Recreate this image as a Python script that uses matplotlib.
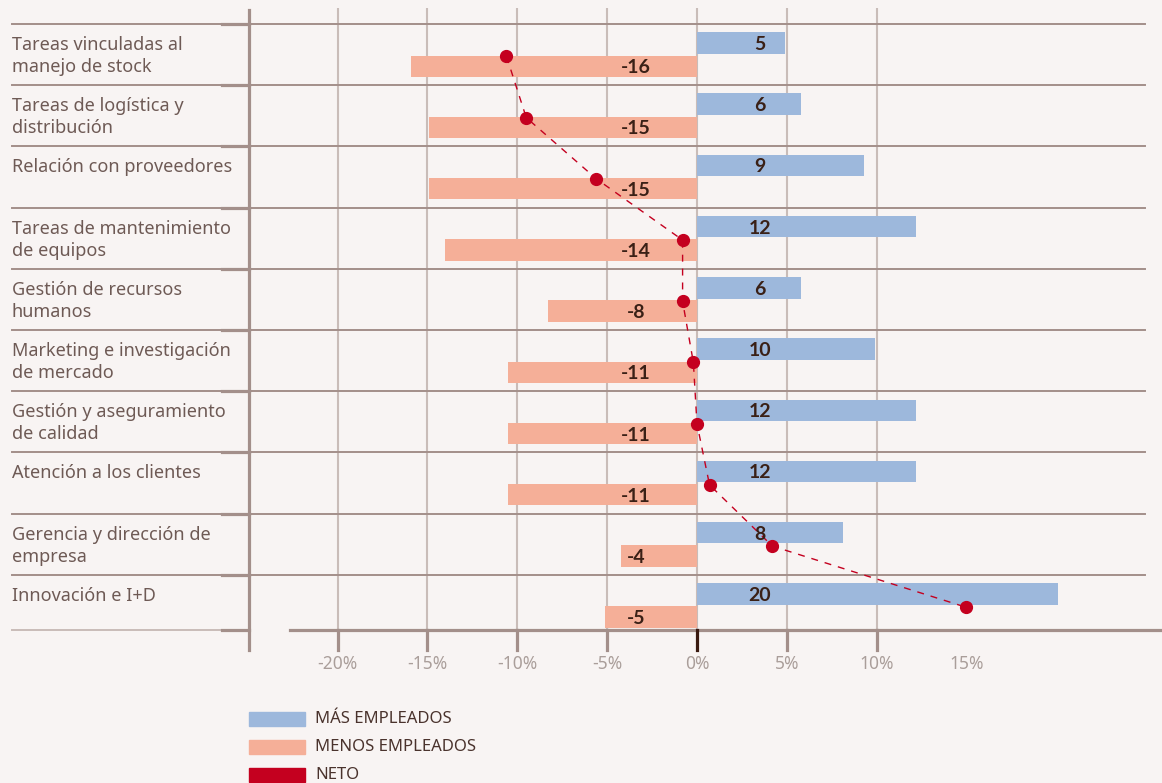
import matplotlib.pyplot as plt
from matplotlib.patches import Rectangle

# data
categorias = [
    'Tareas vinculadas al\nmanejo de stock',
    'Tareas de logística y\ndistribución',
    'Relación con proveedores',
    'Tareas de mantenimiento\nde equipos',
    'Gestión de recursos\nhumanos',
    'Marketing e investigación\nde mercado',
    'Gestión y aseguramiento\nde calidad',
    'Atención a los clientes',
    'Gerencia y dirección de\nempresa',
    'Innovación e I+D',
]
mas_empleados = [4.9, 5.8, 9.3, 12.2, 5.8, 9.9, 12.2, 12.2, 8.1, 20.1]
menos_empleados = [-15.9, -14.9, -14.9, -14.0, -8.3, -10.5, -10.5, -10.5, -4.2, -5.1]
mas_etiquetas = ['5', '6', '9', '12', '6', '10', '12', '12', '8', '20']
menos_etiquetas = ['-16', '-15', '-15', '-14', '-8', '-11', '-11', '-11', '-4', '-5']
neto = [-10.6, -9.5, -5.6, -0.8, -0.8, -0.2, 0.0, 0.7, 4.2, 15.0]
x_ticks = [-20, -15, -10, -5, 0, 5, 10, 15]
x_grid = [-20, -15, -10, -5, 0, 5, 10]

# colors
bg = '#f8f4f3'
azul = '#9db8dc'
salmon = '#f5af98'
rojo = '#c4001f'
linea = '#a38f8a'
grid_v = '#c9bcb8'
texto_cat = '#6e5a55'
texto_val = '#3a2016'
texto_tick = '#aa9e9a'

plt.rcParams['font.family'] = ['Noto Sans', 'DejaVu Sans']

W, H = 1162, 783
fig = plt.figure(figsize=(W / 100, H / 100), dpi=100, facecolor=bg)
ax = fig.add_axes([249 / W, 1 - 630 / H, 913 / W, 622 / H])
ax.set_facecolor(bg)
ax.set_xlim(-24.93, 25.88)
ax.set_ylim(9.40, -0.761)
for s in ax.spines.values():
    s.set_visible(False)
ax.set_xticks([])
ax.set_yticks([])

n = len(categorias)
ys = list(range(n))
bar_h = 0.35

# vertical grid
for xv in x_grid:
    ax.plot([xv, xv], [0, 1], color=grid_v, lw=1.5,
            transform=ax.get_xaxis_transform(), zorder=0.5)

# horizontal band lines (extend into the label area)
tr_y = ax.get_yaxis_transform()
for i in range(n):
    ax.plot([(12 - 249) / 913, (1145 - 249) / 913], [i - 0.5, i - 0.5],
            color=linea, lw=1.4, transform=tr_y, clip_on=False, zorder=0.6)
ax.plot([(12 - 249) / 913, (222 - 249) / 913], [0, 0], color=grid_v, lw=1.4,
        transform=ax.transAxes, clip_on=False)

# bars
ax.barh([y - 0.19 for y in ys], mas_empleados, height=bar_h, color=azul, zorder=2)
ax.barh([y + 0.19 for y in ys], menos_empleados, height=bar_h, color=salmon, zorder=2)

# value labels
for i in range(n):
    ax.text(3.5, i - 0.19, mas_etiquetas[i], ha='center', va='center_baseline',
            family='Lato', fontsize=14, fontweight='bold', color=texto_val, zorder=4)
    ax.text(-3.4, i + 0.19, menos_etiquetas[i], ha='center', va='center_baseline',
            family='Lato', fontsize=14, fontweight='bold', color=texto_val, zorder=4)

# net line
ax.plot(neto, [y + 0.03 for y in ys], color=rojo, lw=1, ls=(0, (5, 5)), zorder=3)
ax.plot(neto, [y + 0.03 for y in ys], 'o', color=rojo, ms=8.5, zorder=5)

# left spine with ticks
ax.plot([0, 0], [(630 - 650) / 622, (630 - 10) / 622], color=linea, lw=2.3,
        transform=ax.transAxes, clip_on=False, zorder=6)
for i in range(n):
    ax.plot([(222 - 249) / 913, 0], [i - 0.5, i - 0.5], color=linea, lw=2.3,
            transform=tr_y, clip_on=False, zorder=6)
ax.plot([(222 - 249) / 913, 0], [0, 0], color=linea, lw=2.3,
        transform=ax.transAxes, clip_on=False, zorder=6)

# bottom axis
ax.plot([(290 - 249) / 913, 1], [0, 0], color=linea, lw=2.3,
        transform=ax.transAxes, clip_on=False, zorder=6)
tr_x = ax.get_xaxis_transform()
for xv in x_grid:
    c = '#3a1a10' if xv == 0 else linea
    ax.plot([xv, xv], [0, -20 / 622], color=c, lw=2.3, transform=tr_x,
            clip_on=False, zorder=6)
for xv in x_ticks:
    ax.text(xv, -34 / 622, f'{xv}%', ha='center', va='center', fontsize=12.5,
            color=texto_tick, transform=tr_x)

# category labels
for i, cat in enumerate(categorias):
    ax.text((12 - 249) / 913, i - 0.5 + 12 / 61.2, cat, ha='left', va='top',
            fontsize=13, color=texto_cat, linespacing=1.3,
            transform=tr_y, clip_on=False)

# legend
leyenda = [('MÁS EMPLEADOS', azul, 712), ('MENOS EMPLEADOS', salmon, 740), ('NETO', rojo, 768)]
for txt, col, ytop in leyenda:
    fig.patches.append(Rectangle((249 / W, 1 - (ytop + 14) / H), 56 / W, 14 / H,
                                 color=col, transform=fig.transFigure))
    fig.text(315 / W, 1 - (ytop + 7) / H, txt, ha='left', va='center',
             fontsize=12, color='#4a332d')

fig.savefig('out.png', dpi=100, facecolor=bg)
